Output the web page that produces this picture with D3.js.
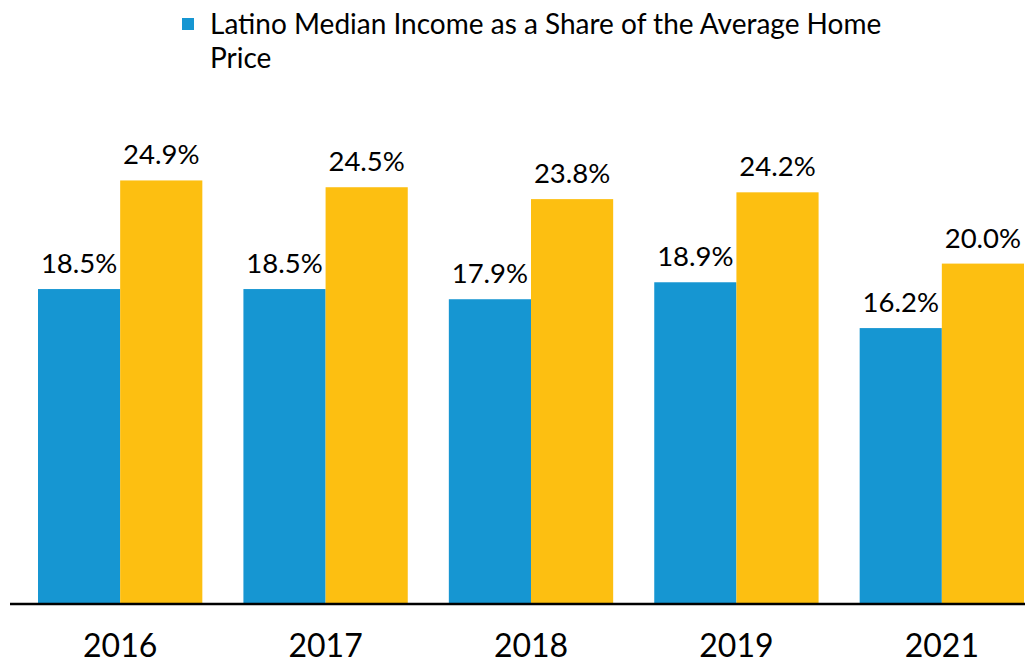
<!DOCTYPE html>
<html>
<head>
<meta charset="utf-8">
<script src="https://cdn.jsdelivr.net/npm/d3@7"></script>
<style>
  html, body { margin: 0; padding: 0; background: #fff; }
  svg { display: block; font-family: Lato, "Open Sans", sans-serif; }
</style>
</head>
<body>
<svg id="chart" width="1025" height="663"></svg>
<script>
const years = ["2016", "2017", "2018", "2019", "2021"];
const seriesNames = ["Latino Median Income as a Share of the Average Home Price", "Series 2"];
const latinoShare = [18.5, 18.5, 17.9, 18.9, 16.2];
const otherShare = [24.9, 24.5, 23.8, 24.2, 20.0];
const colors = ["#1696d2", "#fdbf11"];

const svg = d3.select("#chart");
const baseline = 603;

const x0 = d3.scaleBand().domain(years).range([38, 1024]).paddingInner(0.2).paddingOuter(0);
const x1 = d3.scaleBand().domain([0, 1]).range([0, x0.bandwidth()]).padding(0);
const y = d3.scaleLinear().domain([0, 25]).range([baseline, baseline - 25 * 16.97]);

const data = years.map((yr, i) => ({ year: yr, values: [latinoShare[i], otherShare[i]] }));

const groups = svg.selectAll("g.grp").data(data).join("g")
  .attr("class", "grp")
  .attr("transform", d => `translate(${x0(d.year)},0)`);

groups.selectAll("rect").data(d => d.values.map((v, k) => ({ v, k }))).join("rect")
  .attr("x", d => x1(d.k))
  .attr("y", d => y(d.v))
  .attr("width", x1.bandwidth())
  .attr("height", d => baseline - y(d.v))
  .attr("fill", d => colors[d.k]);

groups.selectAll("text.val").data(d => d.values.map((v, k) => ({ v, k }))).join("text")
  .attr("class", "val")
  .attr("x", d => x1(d.k) + x1.bandwidth() / 2)
  .attr("y", d => y(d.v) - 16)
  .attr("text-anchor", "middle")
  .attr("font-size", 27.5)
  .attr("fill", "#000")
  .text(d => d.v.toFixed(1) + "%");

// x axis
const xAxis = d3.axisBottom(x0).tickSize(0).tickPadding(0);
const ax = svg.append("g").attr("transform", `translate(0,${baseline})`).call(xAxis);
ax.select(".domain").remove();
ax.selectAll("text").attr("font-size", 32).attr("fill", "#000")
  .attr("font-family", "Lato, sans-serif").attr("dy", null).attr("y", 54);

svg.append("line").attr("x1", 10).attr("x2", 1025).attr("y1", baseline + 1).attr("y2", baseline + 1)
  .attr("stroke", "#000").attr("stroke-width", 2.5);

// legend
const lg = svg.append("g");
lg.append("rect").attr("x", 182).attr("y", 18).attr("width", 12).attr("height", 12).attr("fill", colors[0]);
const lt = lg.append("text").attr("font-size", 28).attr("fill", "#000");
lt.append("tspan").attr("x", 210).attr("y", 34).text("Latino Median Income as a Share of the Average Home");
lt.append("tspan").attr("x", 210).attr("y", 68).text("Price");
</script>
</body>
</html>
